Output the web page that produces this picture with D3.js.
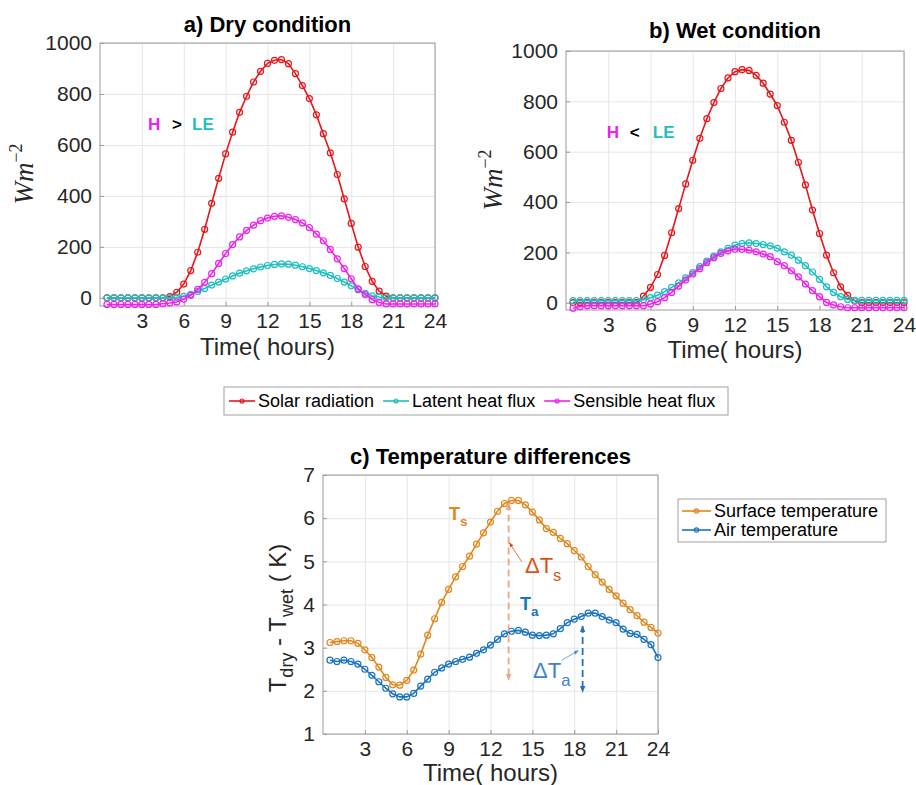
<!DOCTYPE html>
<html>
<head>
<meta charset="utf-8">
<script src="https://cdn.jsdelivr.net/npm/d3@7"></script>
<style>
  body { margin: 0; background: #fff; }
  text { font-family: "Liberation Sans", Arial, sans-serif; }
</style>
</head>
<body>
<svg id="chart" width="916" height="785"></svg>
<script>
    // time of day, half-hour steps
    var hours = [0.5, 1, 1.5, 2, 2.5, 3, 3.5, 4, 4.5, 5, 5.5, 6, 6.5, 7, 7.5, 8,
                 8.5, 9, 9.5, 10, 10.5, 11, 11.5, 12, 12.5, 13, 13.5, 14, 14.5, 15, 15.5, 16,
                 16.5, 17, 17.5, 18, 18.5, 19, 19.5, 20, 20.5, 21, 21.5, 22, 22.5, 23, 23.5, 24];
    var xTicks = [3, 6, 9, 12, 15, 18, 21, 24];
    var fluxTicks = [0, 200, 400, 600, 800, 1000];
    var tempTicks = [1, 2, 3, 4, 5, 6, 7];

    // a) dry condition (W m-2)
    var drySolar = [0, 0, 0, 0, 0, 0, 0, 0, 0, 5, 22, 54, 107, 179, 269, 371, 469, 565, 650, 728,
                    791, 847, 889, 920, 932, 935, 919, 880, 833, 782, 718, 644, 569, 484, 388, 292,
                    199, 123, 65, 26, 7, 0, 0, 0, 0, 0, 0, 0];
    var dryLatent = [0, 0, 0, 0, 0, 0, 0, 0, 0, 0, 2, 6, 14, 25, 37, 50, 62, 74, 86, 97,
                     106, 114, 121, 127, 131, 133, 132, 128, 122, 115, 107, 98, 88, 76, 62, 47,
                     32, 18, 8, 3, 0, 0, 0, 0, 0, 0, 0, 0];
    var drySensible = [-26, -26, -26, -26, -26, -26, -26, -26, -23, -20, -16, -5, 10, 33, 61, 95,
                       135, 174, 209, 239, 265, 285, 303, 313, 320, 322, 316, 307, 294, 276, 250, 224,
                       190, 153, 115, 75, 35, 13, -7, -18, -24, -24, -24, -24, -24, -24, -24, -24];

    // b) wet condition (W m-2)
    var wetSolar = [0, 0, 0, 0, 0, 0, 0, 0, 0, 0, 26, 61, 112, 188, 278, 374, 472, 566, 653, 731,
                    795, 851, 893, 918, 926, 923, 903, 872, 829, 783, 717, 645, 558, 468, 368, 275,
                    189, 119, 63, 29, 8, 0, 0, 0, 0, 0, 0, 0];
    var wetLatent = [8, 8, 8, 8, 8, 8, 8, 8, 8, 8, 12, 20, 30, 44, 61, 79, 99, 120, 143, 165,
                     185, 202, 216, 229, 235, 238, 235, 231, 226, 216, 202, 189, 169, 147, 122, 93,
                     63, 41, 24, 13, 9, 9, 9, 9, 9, 9, 9, 9];
    var wetSensible = [-22, -16, -12, -12, -12, -12, -12, -12, -12, -12, -12, -5, 4, 20, 41, 66,
                       90, 114, 135, 159, 179, 196, 206, 212, 212, 209, 202, 193, 183, 163, 147, 127,
                       103, 74, 48, 24, 1, -9, -16, -20, -20, -20, -20, -20, -20, -20, -20, -20];

    // c) dry minus wet temperature (K)
    var surfaceTemp = [3.12, 3.14, 3.16, 3.16, 3.10, 2.95, 2.77, 2.55, 2.31, 2.14, 2.13, 2.24, 2.48, 2.85, 3.29, 3.67,
                       4.05, 4.35, 4.64, 4.88, 5.12, 5.40, 5.66, 5.91, 6.16, 6.34, 6.41, 6.41, 6.31, 6.14, 5.96, 5.76,
                       5.67, 5.53, 5.41, 5.25, 5.10, 4.88, 4.69, 4.52, 4.35, 4.20, 4.03, 3.88, 3.74, 3.59, 3.47, 3.34];
    var airTemp = [2.71, 2.68, 2.71, 2.68, 2.62, 2.50, 2.36, 2.21, 2.06, 1.93, 1.86, 1.86, 1.94, 2.11, 2.27, 2.43,
                   2.53, 2.62, 2.68, 2.73, 2.78, 2.87, 2.95, 3.06, 3.19, 3.32, 3.38, 3.40, 3.36, 3.29, 3.28, 3.29,
                   3.32, 3.44, 3.58, 3.66, 3.72, 3.80, 3.80, 3.72, 3.64, 3.58, 3.43, 3.33, 3.31, 3.19, 3.07, 2.77];

    var fluxNames = ["Solar radiation", "Latent heat flux", "Sensible heat flux"];
    var tempNames = ["Surface temperature", "Air temperature"];

    var RED = "#e8161b", CYAN = "#1dbfbf", MAGENTA = "#f020ef";
    var ORANGE = "#e0871e", BLUE = "#1b74bd";
    var INK = "#262626";

    var svg = d3.select("#chart");
    var defs = svg.append("defs");

    // arrow heads for the annotation arrows
    function arrowHead(id, color, size) {
        defs.append("marker")
            .attr("id", id)
            .attr("viewBox", "0 0 10 10")
            .attr("refX", 9).attr("refY", 5)
            .attr("markerWidth", size).attr("markerHeight", size)
            .attr("markerUnits", "userSpaceOnUse")
            .attr("orient", "auto-start-reverse")
            .append("path")
            .attr("d", "M0,1 L10,5 L0,9 z")
            .attr("fill", color);
    }
    arrowHead("arrSalmon", "#f3a27a", 7);
    arrowHead("arrBlue", "#2a6fbf", 7);
    arrowHead("arrSmallOrange", "#d95319", 5);
    arrowHead("arrSmallBlue", "#4a8fd6", 5);

    // one axes box with grid, ticks and line series
    function drawPanel(p) {
        var x = d3.scaleLinear().domain([0, 24]).range([p.left, p.left + p.width]);
        var y = d3.scaleLinear().domain(p.yDomain).range([p.top + p.height, p.top]);
        var g = svg.append("g");

        // grid
        g.append("g")
            .attr("transform", "translate(0," + (p.top + p.height) + ")")
            .call(d3.axisBottom(x).tickValues(xTicks).tickSize(-p.height).tickFormat(""))
            .call(s => s.select(".domain").remove())
            .selectAll("line").attr("stroke", "#e6e6e6");
        g.append("g")
            .attr("transform", "translate(" + p.left + ",0)")
            .call(d3.axisLeft(y).tickValues(p.yTicks).tickSize(-p.width).tickFormat(""))
            .call(s => s.select(".domain").remove())
            .selectAll("line").attr("stroke", "#e6e6e6");

        // box
        g.append("rect")
            .attr("x", p.left).attr("y", p.top)
            .attr("width", p.width).attr("height", p.height)
            .attr("fill", "none").attr("stroke", "#9a9a9a");

        // axes with inward ticks
        var xa = g.append("g")
            .attr("transform", "translate(0," + (p.top + p.height) + ")")
            .call(d3.axisBottom(x).tickValues(xTicks).tickFormat(d3.format("d"))
                .tickSizeInner(-4).tickSizeOuter(0).tickPadding(7));
        var ya = g.append("g")
            .attr("transform", "translate(" + p.left + ",0)")
            .call(d3.axisLeft(y).tickValues(p.yTicks).tickFormat(d3.format("d"))
                .tickSizeInner(-4).tickSizeOuter(0).tickPadding(8));
        [xa, ya].forEach(a => {
            a.select(".domain").remove();
            a.selectAll("line").attr("stroke", "#9a9a9a");
            a.selectAll("text").attr("font-size", 21).attr("fill", INK)
                .style("font-family", "'Liberation Sans', Arial, sans-serif");
        });

        // series
        var line = d3.line().x((d, i) => x(hours[i])).y(d => y(d));
        p.series.forEach(s => {
            g.append("path")
                .datum(s.values)
                .attr("d", line)
                .attr("fill", "none")
                .attr("stroke", s.color)
                .attr("stroke-width", 1.6);
            g.selectAll(null)
                .data(s.values)
                .enter().append("circle")
                .attr("cx", (d, i) => x(hours[i]))
                .attr("cy", d => y(d))
                .attr("r", 3)
                .attr("fill", "none")
                .attr("stroke", s.color)
                .attr("stroke-width", 1.2);
        });

        // title and x label
        g.append("text")
            .attr("x", p.left + p.width / 2).attr("y", p.titleY)
            .attr("text-anchor", "middle")
            .attr("font-size", 22).attr("font-weight", "bold").attr("fill", "#000")
            .text(p.title);
        g.append("text")
            .attr("x", p.left + p.width / 2).attr("y", p.xLabelY)
            .attr("text-anchor", "middle")
            .attr("font-size", 24).attr("fill", INK)
            .text("Time( hours)");

        return {x: x, y: y, g: g};
    }

    // W m^-2 label in italic serif, like the LaTeX interpreter
    function fluxLabel(cx, cy) {
        var t = svg.append("text")
            .attr("transform", "translate(" + cx + "," + cy + ") rotate(-90)")
            .attr("text-anchor", "middle")
            .attr("fill", INK)
            .style("font-family", "'Liberation Serif', 'DejaVu Serif', serif")
            .style("font-style", "italic")
            .attr("font-size", 27);
        t.append("tspan").text("Wm");
        t.append("tspan").attr("dy", -11).attr("font-size", 18).style("font-style", "normal").text("\u22122");
    }

    // H vs LE note
    function fluxNote(panel, hx, vy, sign, gaps) {
        var px = panel.x(hx), py = panel.y(vy);
        var parts = [["H", MAGENTA, 0], [sign, "#000", gaps[0]], ["LE", CYAN, gaps[1]]];
        parts.forEach(pt => {
            panel.g.append("text")
                .attr("x", px + pt[2]).attr("y", py)
                .attr("font-size", 17).attr("font-weight", "bold")
                .attr("fill", pt[1])
                .text(pt[0]);
        });
    }

    var pa = drawPanel({
        left: 100, top: 43, width: 335, height: 263,
        yDomain: [-32, 1000], yTicks: fluxTicks,
        title: "a) Dry condition", titleY: 32, xLabelY: 355,
        series: [{values: drySolar, color: RED}, {values: dryLatent, color: CYAN}, {values: drySensible, color: MAGENTA}]
    });
    var pb = drawPanel({
        left: 566, top: 51, width: 338, height: 259,
        yDomain: [-29, 1000], yTicks: fluxTicks,
        title: "b) Wet condition", titleY: 38, xLabelY: 358,
        series: [{values: wetSolar, color: RED}, {values: wetLatent, color: CYAN}, {values: wetSensible, color: MAGENTA}]
    });
    var pc = drawPanel({
        left: 323, top: 475, width: 335, height: 259,
        yDomain: [1, 7], yTicks: tempTicks,
        title: "c) Temperature differences", titleY: 464, xLabelY: 781,
        series: [{values: surfaceTemp, color: ORANGE}, {values: airTemp, color: BLUE}]
    });

    fluxLabel(33, 174);
    fluxLabel(502, 180);
    fluxNote(pa, 3.44, 658, ">", [24, 44]);
    fluxNote(pb, 2.9, 653, "<", [23, 46]);

    // y label of panel c with subscripts
    var yl = svg.append("text")
        .attr("transform", "translate(286,618) rotate(-90)")
        .attr("text-anchor", "middle")
        .attr("fill", INK)
        .attr("font-size", 24);
    yl.append("tspan").text("T");
    yl.append("tspan").attr("dy", 7).attr("font-size", 18).text("dry");
    yl.append("tspan").attr("dy", -7).text(" - T");
    yl.append("tspan").attr("dy", 7).attr("font-size", 18).text("wet");
    yl.append("tspan").attr("dy", -7).text(" ( K)");

    // legend for panels a and b
    var legTop = svg.append("g");
    legTop.append("rect")
        .attr("x", 224).attr("y", 387).attr("width", 504).attr("height", 28)
        .attr("fill", "#fff").attr("stroke", "#a0a0a0");
    var legColors = [RED, CYAN, MAGENTA];
    var lx = 229;
    fluxNames.forEach((name, i) => {
        legTop.append("line").attr("x1", lx).attr("x2", lx + 26).attr("y1", 401).attr("y2", 401)
            .attr("stroke", legColors[i]).attr("stroke-width", 1.6);
        legTop.append("circle").attr("cx", lx + 13).attr("cy", 401).attr("r", 2)
            .attr("fill", "none").attr("stroke", legColors[i]).attr("stroke-width", 1.2);
        var t = legTop.append("text").attr("x", lx + 29).attr("y", 407)
            .attr("font-size", 18).attr("fill", "#000").text(name);
        lx += 29 + t.node().getComputedTextLength() + 9;
    });

    // legend for panel c
    var legC = svg.append("g");
    legC.append("rect")
        .attr("x", 678).attr("y", 499).attr("width", 208).attr("height", 43)
        .attr("fill", "#fff").attr("stroke", "#a0a0a0");
    [ORANGE, BLUE].forEach((c, i) => {
        var yy = 511 + i * 19;
        legC.append("line").attr("x1", 682).attr("x2", 711).attr("y1", yy).attr("y2", yy)
            .attr("stroke", c).attr("stroke-width", 1.6);
        legC.append("circle").attr("cx", 696.5).attr("cy", yy).attr("r", 2.2)
            .attr("fill", "none").attr("stroke", c).attr("stroke-width", 1.2);
        legC.append("text").attr("x", 714).attr("y", yy + 6)
            .attr("font-size", 18).attr("fill", "#000").text(tempNames[i]);
    });

    // annotations in panel c
    var cx = pc.x, cy = pc.y, cg = pc.g;
    function subLabel(hx, vy, main, sub, color, size, bold) {
        var t = cg.append("text").attr("x", cx(hx)).attr("y", cy(vy))
            .attr("font-size", size).attr("fill", color)
            .attr("font-weight", bold ? "bold" : "normal");
        t.append("tspan").text(main);
        t.append("tspan").attr("dy", size * 0.35).attr("font-size", size * 0.75).text(sub);
    }
    subLabel(9.03, 5.96, "T", "s", ORANGE, 18, true);
    subLabel(14.11, 3.87, "T", "a", BLUE, 18, true);
    subLabel(14.47, 4.73, "\u0394T", "s", "#d95319", 22, false);
    subLabel(15.05, 2.30, "\u0394T", "a", "#3b82cf", 22, false);

    // double headed dashed arrows
    cg.append("line")
        .attr("x1", cx(13.3)).attr("x2", cx(13.3)).attr("y1", cy(6.34)).attr("y2", cy(2.25))
        .attr("stroke", "#f3a27a").attr("stroke-width", 1.8).attr("stroke-dasharray", "7,4")
        .attr("marker-start", "url(#arrSalmon)").attr("marker-end", "url(#arrSalmon)");
    cg.append("line")
        .attr("x1", cx(18.6)).attr("x2", cx(18.6)).attr("y1", cy(3.5)).attr("y2", cy(1.97))
        .attr("stroke", "#2a6fbf").attr("stroke-width", 1.8).attr("stroke-dasharray", "7,4")
        .attr("marker-start", "url(#arrBlue)").attr("marker-end", "url(#arrBlue)");

    // thin pointers from labels
    cg.append("line")
        .attr("x1", cx(14.24)).attr("y1", cy(4.99)).attr("x2", cx(13.35)).attr("y2", cy(5.43))
        .attr("stroke", "#d95319").attr("stroke-width", 0.8)
        .attr("marker-end", "url(#arrSmallOrange)");
    cg.append("line")
        .attr("x1", cx(17.1)).attr("y1", cy(2.71)).attr("x2", cx(18.29)).attr("y2", cy(2.93))
        .attr("stroke", "#4a8fd6").attr("stroke-width", 0.8)
        .attr("marker-end", "url(#arrSmallBlue)");
</script>
</body>
</html>
